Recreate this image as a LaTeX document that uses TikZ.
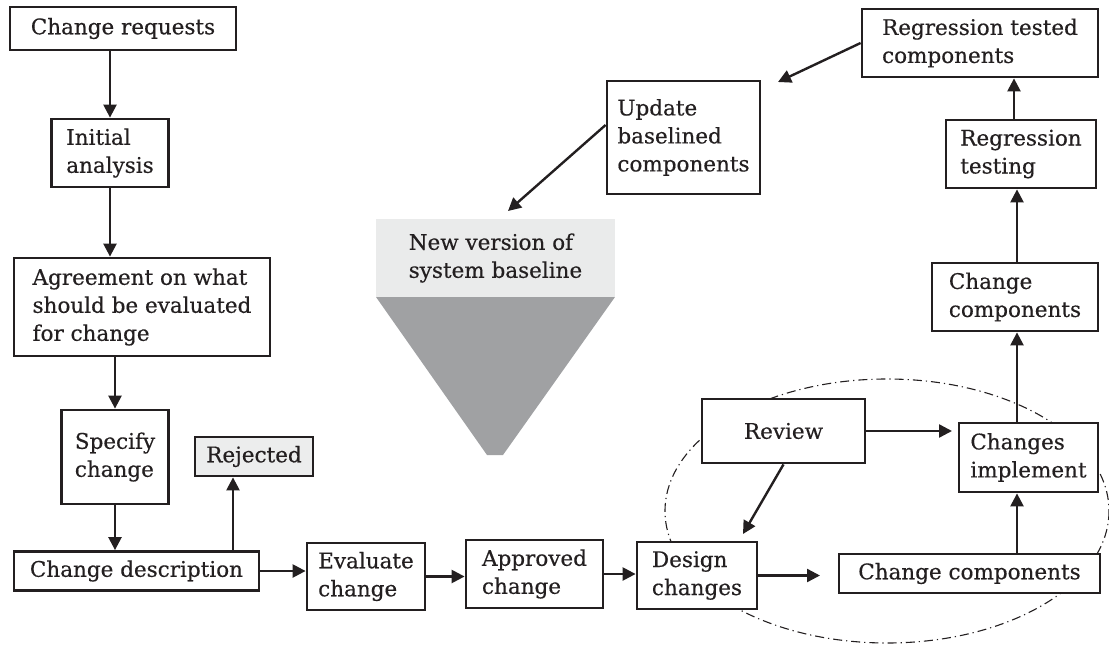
\documentclass[tikz,border=0pt]{standalone}
\usepackage{fontspec}
\setmainfont{DejaVu Serif}[UprightFeatures={FakeBold=0.4}]
\usetikzlibrary{arrows.meta}
\definecolor{ink}{HTML}{231F20}
\definecolor{paleband}{HTML}{EAEBEB}
\definecolor{funnel}{HTML}{A0A1A3}
\definecolor{rejfill}{HTML}{ECEDED}
\begin{document}
\begin{tikzpicture}[x=1pt,y=-1pt,
  box/.style={draw=ink, line width=2.8pt, fill=white, align=left, inner sep=0pt,
    text=ink, font=\fontsize{21.5}{28}\selectfont},
  arr/.style={draw=ink, line width=2.4pt, -{Triangle[length=13pt,width=13pt]}},
  loop/.style={draw=ink, line width=1.1pt, dash pattern=on 9pt off 4pt on 1.2pt off 4pt}]
\useasboundingbox (0,0) rectangle (1109,645);

% dash-dot boundary around the design/implementation loop
\draw[loop] (887,511) ellipse [x radius=222, y radius=132];

% new baseline funnel
\fill[funnel] (376,297) -- (615,297) -- (503,455) -- (487,455) -- cycle;
\node[fill=paleband, minimum width=239pt, minimum height=78pt, inner sep=0pt,
  text=ink, align=left, font=\fontsize{21.5}{28}\selectfont] (newv) at (495.5,258)
  {New version of\\system baseline};

% process boxes
\node[box, minimum width=226pt, minimum height=43pt] (req) at (123,28.5) {Change requests};
\node[box, minimum width=117pt, minimum height=68pt] (init) at (110,153) {Initial\\analysis};
\node[box, minimum width=256pt, minimum height=98pt] (agree) at (142,307)
  {Agreement on what\\should be evaluated\\for change};
\node[box, minimum width=107pt, minimum height=94pt] (spec) at (115,457) {Specify\\change};
\node[box, fill=rejfill, minimum width=118pt, minimum height=39pt] (rej) at (254,456.5) {Rejected};
\node[box, minimum width=245pt, minimum height=39pt] (desc) at (136.5,571) {Change description};
\node[box, minimum width=118pt, minimum height=67pt] (eval) at (366,576.5) {Evaluate\\change};
\node[box, minimum width=137pt, minimum height=68pt] (appr) at (534.5,574) {Approved\\change};
\node[box, minimum width=120pt, minimum height=67pt] (design) at (697,575.5) {Design\\changes};
\node[box, minimum width=261pt, minimum height=39pt] (ccb) at (969.5,573.5) {Change components};
\node[box, minimum width=139pt, minimum height=69pt] (impl) at (1028.5,457.5) {Changes\\implement};
\node[box, minimum width=163pt, minimum height=64pt] (review) at (783.5,431) {Review};
\node[box, minimum width=166pt, minimum height=68pt] (ccr) at (1015,297) {Change\\components};
\node[box, minimum width=150pt, minimum height=68pt] (regt) at (1021,154) {Regression\\testing};
\node[box, minimum width=236pt, minimum height=68pt] (regtc) at (980,43)
  {Regression tested\\components};
\node[box, minimum width=153pt, minimum height=113pt] (upd) at (683.5,137.5)
  {Update\\baselined\\components};

% helper points for connectors
\coordinate (rj) at ([xshift=-21pt]rej.south);
\coordinate (xr) at (1017,0);
\coordinate (xt) at (1014,0);
\coordinate (gapend) at (820,575.5);
\coordinate (implin) at (952,431);
\coordinate (designin) at (743,534);
\coordinate (newvin) at (508,211);
\coordinate (updin) at (778,82);

% connectors
\draw[arr] (req.south -| init.north) -- (init.north);
\draw[arr] (init.south) -- (init.south |- agree.north);
\draw[arr] (spec.north |- agree.south) -- (spec.north);
\draw[arr] (spec.south) -- (spec.south |- desc.north);
\draw[arr] (desc.north -| rj) -- (rj);
\draw[arr] (desc.east) -- (desc.east -| eval.west);
\draw[arr] (eval.east) -- (eval.east -| appr.west);
\draw[arr] (appr.east) -- (appr.east -| design.west);
\draw[arr] (design.east |- gapend) -- (gapend);
\draw[arr] (ccb.north -| xr) -- (impl.south -| xr);
\draw[arr] (review.east) -- (implin);
\draw[arr] (review.south) -- (designin);
\draw[arr] (impl.north -| xr) -- (ccr.south -| xr);
\draw[arr] (ccr.north -| xr) -- (regt.south -| xr);
\draw[arr] (regt.north -| xt) -- (regtc.south -| xt);
\draw[arr] (regtc.west) -- (updin);
\draw[arr] ([yshift=12.5pt]upd.west) -- (newvin);
\end{tikzpicture}
\end{document}
